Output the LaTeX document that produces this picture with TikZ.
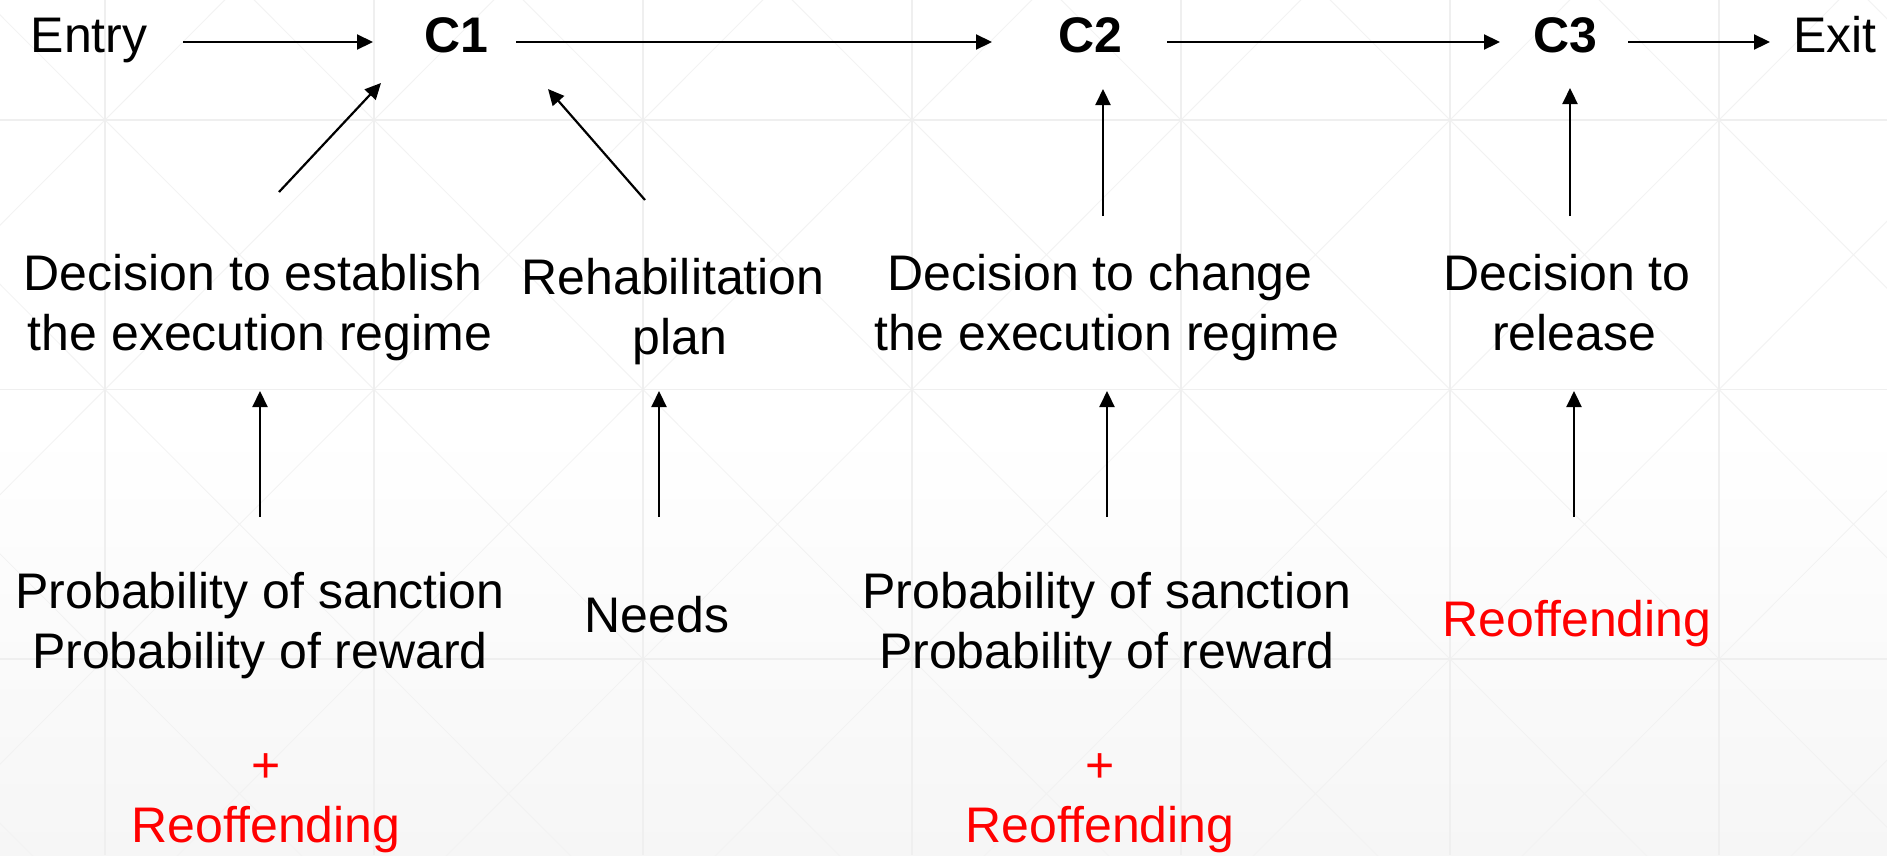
\documentclass[tikz,border=0pt]{standalone}
\usepackage{fontspec}
\setmainfont{Liberation Sans}
\usetikzlibrary{arrows.meta,calc}
\definecolor{gridc}{RGB}{239,239,239}
\definecolor{diagc}{RGB}{242,242,242}
\definecolor{bgbot}{RGB}{246,246,246}
\definecolor{redtext}{RGB}{255,0,0}
\begin{document}
\begin{tikzpicture}[x={(1pt,0)},y={(0,-1pt)},
  txt/.style={inner sep=0pt,anchor=base,align=center,font=\fontsize{50}{59.5}\selectfont},
  hd/.style={txt,font=\fontsize{50}{59.5}\selectfont\bfseries},
  red/.style={txt,text=redtext},
  arr/.style={line width=2.2pt,-{Triangle[length=16pt,width=15pt]}}]
\useasboundingbox (0,0) rectangle (1887,855);
% background
\shade[top color=white,bottom color=bgbot,middle color=white] (0,0) rectangle (1887,855);
\begin{scope}
\clip (0,0) rectangle (1887,855);
\foreach \i in {-1,...,6}{
  \foreach \j in {-1,...,3}{
    \pgfmathsetmacro{\xa}{105+269*\i}
    \pgfmathsetmacro{\ya}{120+269.5*\j}
    \draw[diagc,line width=0.8pt] (\xa,\ya) -- (\xa+269,\ya+269.5);
    \draw[diagc,line width=0.8pt] (\xa+269,\ya) -- (\xa,\ya+269.5);
  }
}
\foreach \i in {-1,...,6}{
  \pgfmathsetmacro{\xa}{105+269*\i}
  \draw[gridc,line width=1.2pt] (\xa,0) -- (\xa,855);
}
\foreach \j in {0,...,2}{
  \pgfmathsetmacro{\ya}{120+269.5*\j}
  \draw[gridc,line width=1.2pt] (0,\ya) -- (1887,\ya);
}
\end{scope}
% top row
\node[txt] (entry) at (89,52) {Entry};
\node[hd] (c1) at (456,52) {C1};
\node[hd] (c2) at (1090,52) {C2};
\node[hd] (c3) at (1565,52) {C3};
\node[txt] (exit) at (1835,52) {Exit};
% middle row (base = last line)
\node[txt] (dec1) at (260,350) {Decision to establish\hspace*{.278em}\\the execution regime};
\node[txt] (rehab) at (680,354) {Rehabilitation\hspace*{.278em}\\plan};
\node[txt] (dec2) at (1107,350) {Decision to change\hspace*{.278em}\\the execution regime};
\node[txt] (dec3) at (1574,350) {Decision to\hspace*{.278em}\\release};
% bottom row
\node[txt] (prob1) at (260,668) {Probability of sanction\\Probability of reward};
\node[txt] (needs) at (657,632) {Needs};
\node[txt] (prob2) at (1107,668) {Probability of sanction\\Probability of reward};
\node[red] (reoff3) at (1577,636) {Reoffending};
\node[red] (plus1) at (266,842) {+\\Reoffending};
\node[red] (plus2) at (1100,842) {+\\Reoffending};
% horizontal arrows
\draw[arr] ($(entry.base)+(94,-10)$) -- ($(c1.base)+(-83,-10)$);
\draw[arr] ($(c1.base)+(60,-10)$) -- ($(c2.base)+(-98,-10)$);
\draw[arr] ($(c2.base)+(77,-10)$) -- ($(c3.base)+(-65,-10)$);
\draw[arr] ($(c3.base)+(63,-10)$) -- ($(exit.base)+(-65,-10)$);
% into C1
\draw[arr] ($(dec1.base)+(19,-158)$) -- ($(c1.base)+(-75,31)$);
\draw[arr] ($(rehab.base)+(-35,-154)$) -- ($(c1.base)+(92,37)$);
% into C2, C3
\draw[arr] ($(dec2.base)+(-4,-134)$) -- ($(c2.base)+(13,37)$);
\draw[arr] ($(dec3.base)+(-4,-134)$) -- ($(c3.base)+(5,36)$);
% bottom arrows
\draw[arr] ($(prob1.base)+(0,-151)$) -- ($(dec1.base)+(0,41)$);
\draw[arr] ($(needs.base)+(2,-115)$) -- ($(rehab.base)+(-21,37)$);
\draw[arr] ($(prob2.base)+(0,-151)$) -- ($(dec2.base)+(0,41)$);
\draw[arr] ($(reoff3.base)+(-3,-119)$) -- ($(dec3.base)+(0,41)$);
\end{tikzpicture}
\end{document}
